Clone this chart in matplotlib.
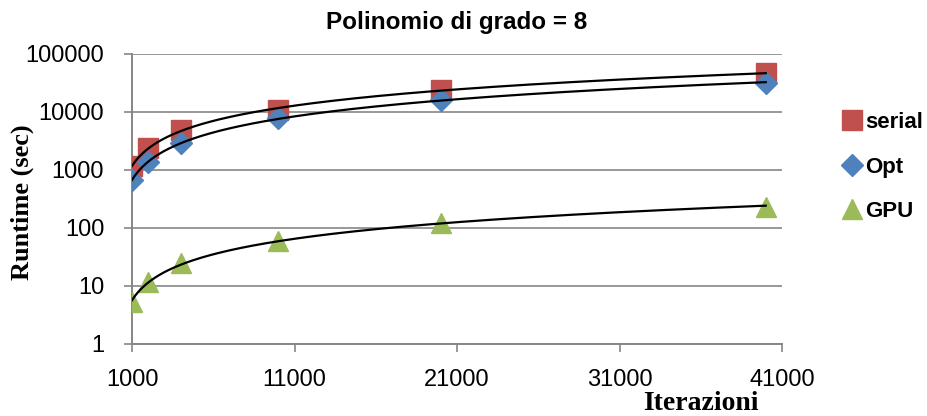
import numpy as np
import matplotlib
matplotlib.use('Agg')
import matplotlib.pyplot as plt

# iterazioni e tempi (sec)
iterazioni = np.array([1000, 2000, 4000, 10000, 20000, 40000])
serial = np.array([1150, 2400, 4900, 10800, 24000, 47000])
opt = np.array([670, 1370, 2900, 7900, 16000, 31600])
gpu = np.array([5.3, 11.7, 25, 60, 122, 230])

series = [
    ('serial', serial, 's', '#C0504D', 14),
    ('Opt', opt, 'D', '#4F81BD', 11),
    ('GPU', gpu, '^', '#9BBB59', 15),
]

plt.rcParams['font.family'] = ['Liberation Sans Narrow', 'Liberation Sans', 'DejaVu Sans']

fig = plt.figure(figsize=(9.28, 4.16), dpi=100)
ax = fig.add_axes([132/928, 1 - 344/416, 650/928, 290/416])

x_fit = np.linspace(iterazioni[0], iterazioni[-1], 300)
for name, y, mk, col, ms in series:
    ax.plot(iterazioni, y, linestyle='none', marker=mk, color=col,
            markersize=ms, label=name, zorder=3)
    # linea di tendenza di tipo potenza
    b, a = np.polyfit(np.log(iterazioni), np.log(y), 1)
    ax.plot(x_fit, np.exp(a) * x_fit ** b, color='black', lw=1.6, zorder=4)

ax.set_yscale('log')
ax.set_ylim(1, 100000)
ax.set_xlim(1000, 41000)
ax.set_xticks([1000, 11000, 21000, 31000, 41000])
ax.set_xticklabels(['1000', '11000', '21000', '31000', '41000'])
ax.set_yticks([1, 10, 100, 1000, 10000, 100000])
ax.set_yticklabels(['1', '10', '100', '1000', '10000', '100000'])
ax.minorticks_off()
ax.tick_params(axis='both', labelsize=17, color='#868686', length=6, width=1.2)
ax.tick_params(axis='x', pad=12)
ax.tick_params(axis='y', pad=14)
ax.grid(axis='y', color='#868686', lw=1.2)
for s in ['top', 'right']:
    ax.spines[s].set_visible(False)
for s in ['left', 'bottom']:
    ax.spines[s].set_color('#868686')
    ax.spines[s].set_linewidth(1.4)

fig.text(457/928, 1 - 22/416, 'Polinomio di grado = 8', ha='center', va='center',
         fontsize=17.5, fontweight='bold', family=['Liberation Sans', 'DejaVu Sans'])
fig.text(22/928, 1 - 202/416, 'Runtime (sec)', rotation=90, ha='center', va='center',
         fontsize=19, fontweight='bold', family=['Liberation Serif', 'DejaVu Serif'])
fig.text(701/928, 1 - 404/416, 'Iterazioni', ha='center', va='center',
         fontsize=20, fontweight='bold', family=['Liberation Serif', 'DejaVu Serif'])

leg = ax.legend(loc='center left', bbox_to_anchor=(824/928, 1 - 167/416),
                bbox_transform=fig.transFigure, frameon=False, handlelength=0.7,
                handletextpad=0.25, labelspacing=1.05,
                prop={'family': ['Liberation Sans', 'DejaVu Sans'], 'weight': 'bold', 'size': 16})

fig.savefig('out.png', dpi=100)
